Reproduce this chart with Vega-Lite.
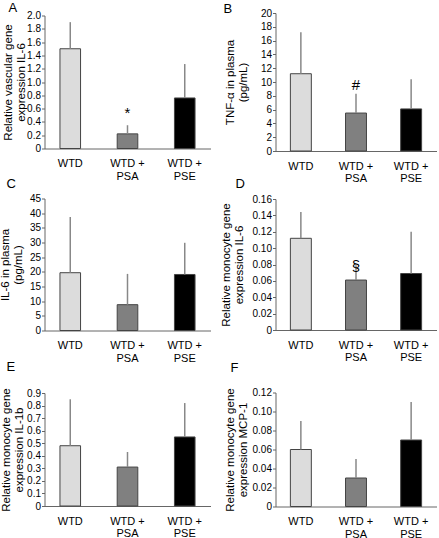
{
  "$schema": "https://vega.github.io/schema/vega-lite/v6.json",
  "padding": {"left": -1.5, "top": 1, "right": 0, "bottom": 0},
  "spacing": -2.5,
  "config": {
    "view": {"stroke": null},
    "font": "Liberation Sans",
    "axis": {"domainColor": "#666", "tickColor": "#666", "labelColor": "#000", "titleColor": "#000", "labelFont": "Liberation Sans", "titleFont": "Liberation Sans", "titleFontWeight": "normal", "grid": false},
    "axisY": {"labelFontSize": 10, "titleFontSize": 11.5, "tickSize": 3, "labelPadding": 1, "titleLineHeight": 13, "labelOverlap": false},
    "axisX": {"labelFontSize": 11, "ticks": false, "tickSize": 0, "labelAngle": 0, "labelBaseline": "middle", "labelPadding": 15, "labelLineHeight": 12.5, "labelExpr": "split(replace(datum.value, '+ ', '+|'), '|')", "title": null},
    "title": {"fontSize": 13, "fontWeight": "normal", "font": "Liberation Sans", "anchor": "start", "frame": "group", "baseline": "alphabetic"},
    "bar": {"stroke": "#444", "strokeWidth": 1},
    "rule": {"color": "#888", "strokeWidth": 1.5}
  },
  "vconcat": [
    {
      "vconcat": [
        {
          "hconcat": [
            {
              "width": 166, "height": 133,
              "title": {"text": "A", "dx": -36, "offset": -4},
              "data": {"values": [
                {"group": "WTD", "value": 1.5, "upper": 1.9, "sig": "", "sigy": 0},
                {"group": "WTD + PSA", "value": 0.22, "upper": 0.35, "sig": "*", "sigy": 0.54},
                {"group": "WTD + PSE", "value": 0.76, "upper": 1.27, "sig": "", "sigy": 0}
              ]},
              "encoding": {"x": {"field": "group", "type": "nominal", "sort": null, "scale": {"paddingInner": 0.64, "paddingOuter": 0.27}}},
              "layer": [
                {"mark": "bar", "encoding": {
                  "y": {"field": "value", "type": "quantitative", "scale": {"domain": [0, 2], "nice": false}, "axis": {"values": [0, 0.2, 0.4, 0.6, 0.8, 1.0, 1.2, 1.4, 1.6, 1.8, 2.0], "tickCount": 11, "labelOverlap": false, "labelExpr": "datum.value == 0 ? '0' : format(datum.value, '.1f')", "title": ["Relative vascular gene", "expression IL-6"], "titleX": -31.5}},
                  "color": {"field": "group", "type": "nominal", "scale": {"domain": ["WTD", "WTD + PSA", "WTD + PSE"], "range": ["#dcdcdc", "#808080", "#000000"]}, "legend": null}}},
                {"mark": "rule", "encoding": {"y": {"field": "value", "type": "quantitative"}, "y2": {"field": "upper"}}},
                {"transform": [{"filter": "datum.sig != ''"}], "mark": {"type": "text", "fontSize": 15, "baseline": "middle"}, "encoding": {"y": {"field": "sigy", "type": "quantitative"}, "text": {"field": "sig"}}}
              ]
            },
            {
              "width": 161, "height": 138,
              "title": {"text": "B", "dx": -52, "offset": -8},
              "data": {"values": [
                {"group": "WTD", "value": 11.2, "upper": 17.2, "sig": "", "sigy": 0},
                {"group": "WTD + PSA", "value": 5.5, "upper": 8.3, "sig": "#", "sigy": 9.6},
                {"group": "WTD + PSE", "value": 6.1, "upper": 10.4, "sig": "", "sigy": 0}
              ]},
              "encoding": {"x": {"field": "group", "type": "nominal", "sort": null, "scale": {"paddingInner": 0.62, "paddingOuter": 0.27}}},
              "layer": [
                {"mark": "bar", "encoding": {
                  "y": {"field": "value", "type": "quantitative", "scale": {"domain": [0, 20], "nice": false}, "axis": {"values": [0, 2, 4, 6, 8, 10, 12, 14, 16, 18, 20], "tickCount": 11, "labelOverlap": false, "title": ["TNF-α in plasma", "(pg/mL)"], "titleX": -40}},
                  "color": {"field": "group", "type": "nominal", "scale": {"domain": ["WTD", "WTD + PSA", "WTD + PSE"], "range": ["#dcdcdc", "#808080", "#000000"]}, "legend": null}}},
                {"mark": "rule", "encoding": {"y": {"field": "value", "type": "quantitative"}, "y2": {"field": "upper"}}},
                {"transform": [{"filter": "datum.sig != ''"}], "mark": {"type": "text", "fontSize": 15, "baseline": "middle"}, "encoding": {"y": {"field": "sigy", "type": "quantitative"}, "text": {"field": "sig"}}}
              ]
            }
          ],
          "spacing": 65, "bounds": "flush", "center": true
        },
        {
          "hconcat": [
            {
              "width": 166, "height": 132,
              "title": {"text": "C", "dx": -38, "offset": 3},
              "data": {"values": [
                {"group": "WTD", "value": 19.7, "upper": 38.7, "sig": "", "sigy": 0},
                {"group": "WTD + PSA", "value": 8.8, "upper": 19.3, "sig": "", "sigy": 0},
                {"group": "WTD + PSE", "value": 19.1, "upper": 29.9, "sig": "", "sigy": 0}
              ]},
              "encoding": {"x": {"field": "group", "type": "nominal", "sort": null, "scale": {"paddingInner": 0.64, "paddingOuter": 0.27}}},
              "layer": [
                {"mark": "bar", "encoding": {
                  "y": {"field": "value", "type": "quantitative", "scale": {"domain": [0, 45], "nice": false}, "axis": {"values": [0, 5, 10, 15, 20, 25, 30, 35, 40, 45], "tickCount": 10, "labelOverlap": false, "title": ["IL-6 in plasma", "(pg/mL)"], "titleX": -34.5}},
                  "color": {"field": "group", "type": "nominal", "scale": {"domain": ["WTD", "WTD + PSA", "WTD + PSE"], "range": ["#dcdcdc", "#808080", "#000000"]}, "legend": null}}},
                {"mark": "rule", "encoding": {"y": {"field": "value", "type": "quantitative"}, "y2": {"field": "upper"}}}
              ]
            },
            {
              "width": 161, "height": 131,
              "title": {"text": "D", "dx": -40, "offset": 3},
              "data": {"values": [
                {"group": "WTD", "value": 0.112, "upper": 0.144, "sig": "", "sigy": 0},
                {"group": "WTD + PSA", "value": 0.061, "upper": 0.079, "sig": "§", "sigy": 0.0785},
                {"group": "WTD + PSE", "value": 0.069, "upper": 0.12, "sig": "", "sigy": 0}
              ]},
              "encoding": {"x": {"field": "group", "type": "nominal", "sort": null, "scale": {"paddingInner": 0.62, "paddingOuter": 0.27}}},
              "layer": [
                {"mark": "bar", "encoding": {
                  "y": {"field": "value", "type": "quantitative", "scale": {"domain": [0, 0.16], "nice": false}, "axis": {"values": [0, 0.02, 0.04, 0.06, 0.08, 0.1, 0.12, 0.14, 0.16], "tickCount": 9, "labelOverlap": false, "labelExpr": "datum.value == 0 ? '0' : format(datum.value, '.2f')", "title": ["Relative monocyte gene", "expression IL-6"], "titleX": -44}},
                  "color": {"field": "group", "type": "nominal", "scale": {"domain": ["WTD", "WTD + PSA", "WTD + PSE"], "range": ["#dcdcdc", "#808080", "#000000"]}, "legend": null}}},
                {"mark": "rule", "encoding": {"y": {"field": "value", "type": "quantitative"}, "y2": {"field": "upper"}}},
                {"transform": [{"filter": "datum.sig != ''"}], "mark": {"type": "text", "fontSize": 15, "baseline": "middle"}, "encoding": {"y": {"field": "sigy", "type": "quantitative"}, "text": {"field": "sig"}}}
              ]
            }
          ],
          "spacing": 65, "bounds": "flush", "center": true
        }
      ],
      "spacing": -6.5
    },
    {
      "hconcat": [
        {
          "width": 166, "height": 113,
          "title": {"text": "E", "dx": -38, "offset": 14},
          "data": {"values": [
            {"group": "WTD", "value": 0.48, "upper": 0.85, "sig": "", "sigy": 0},
            {"group": "WTD + PSA", "value": 0.31, "upper": 0.43, "sig": "", "sigy": 0},
            {"group": "WTD + PSE", "value": 0.55, "upper": 0.82, "sig": "", "sigy": 0}
          ]},
          "encoding": {"x": {"field": "group", "type": "nominal", "sort": null, "scale": {"paddingInner": 0.64, "paddingOuter": 0.27}}},
          "layer": [
            {"mark": "bar", "encoding": {
              "y": {"field": "value", "type": "quantitative", "scale": {"domain": [0, 0.9], "nice": false}, "axis": {"values": [0, 0.1, 0.2, 0.3, 0.4, 0.5, 0.6, 0.7, 0.8, 0.9], "tickCount": 10, "labelOverlap": false, "labelExpr": "datum.value == 0 ? '0' : format(datum.value, '.1f')", "title": ["Relative monocyte gene", "expression IL-1b"], "titleX": -33.5}},
              "color": {"field": "group", "type": "nominal", "scale": {"domain": ["WTD", "WTD + PSA", "WTD + PSE"], "range": ["#dcdcdc", "#808080", "#000000"]}, "legend": null}}},
            {"mark": "rule", "encoding": {"y": {"field": "value", "type": "quantitative"}, "y2": {"field": "upper"}}}
          ]
        },
        {
          "width": 161, "height": 114,
          "title": {"text": "F", "dx": -45, "offset": 13},
          "data": {"values": [
            {"group": "WTD", "value": 0.06, "upper": 0.09, "sig": "", "sigy": 0},
            {"group": "WTD + PSA", "value": 0.03, "upper": 0.05, "sig": "", "sigy": 0},
            {"group": "WTD + PSE", "value": 0.07, "upper": 0.11, "sig": "", "sigy": 0}
          ]},
          "encoding": {"x": {"field": "group", "type": "nominal", "sort": null, "scale": {"paddingInner": 0.62, "paddingOuter": 0.27}}},
          "layer": [
            {"mark": "bar", "encoding": {
              "y": {"field": "value", "type": "quantitative", "scale": {"domain": [0, 0.12], "nice": false}, "axis": {"values": [0, 0.02, 0.04, 0.06, 0.08, 0.1, 0.12], "tickCount": 7, "labelOverlap": false, "labelExpr": "datum.value == 0 ? '0' : format(datum.value, '.2f')", "title": ["Relative monocyte gene", "expression MCP-1"], "titleX": -40}},
              "color": {"field": "group", "type": "nominal", "scale": {"domain": ["WTD", "WTD + PSA", "WTD + PSE"], "range": ["#dcdcdc", "#808080", "#000000"]}, "legend": null}}},
            {"mark": "rule", "encoding": {"y": {"field": "value", "type": "quantitative"}, "y2": {"field": "upper"}}}
          ]
        }
      ],
      "spacing": 65, "bounds": "flush", "center": true
    }
  ]
}
